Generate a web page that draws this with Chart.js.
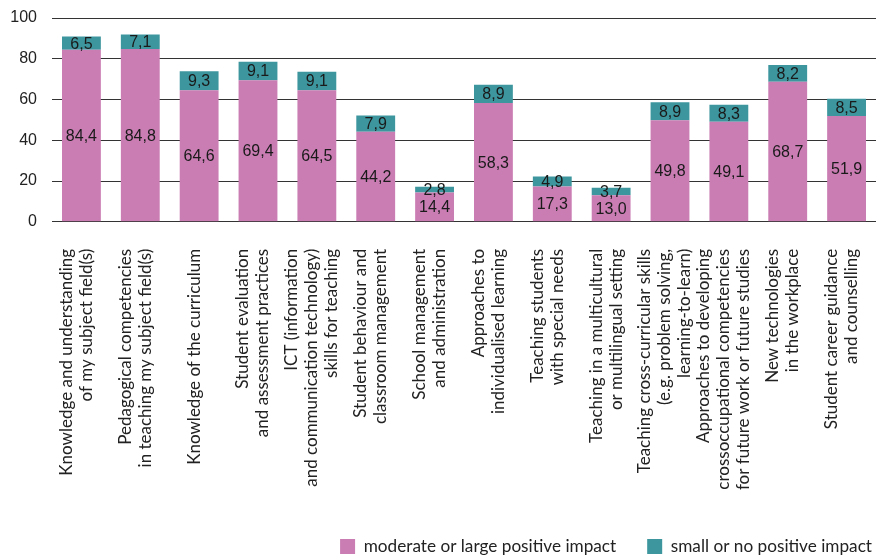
<!DOCTYPE html>
<html>
<head>
<meta charset="utf-8">
<script src="https://cdn.jsdelivr.net/npm/chart.js@4.4.0/dist/chart.umd.min.js"></script>
<style>
  html, body { margin: 0; padding: 0; background: #fff; }
  #wrap { width: 876px; height: 557px; }
</style>
</head>
<body>
<div id="wrap"><canvas id="myChart"></canvas></div>
<script>
var categories = [
  ["Knowledge and understanding", "of my subject field(s)"],
  ["Pedagogical competencies", "in teaching my subject field(s)"],
  ["Knowledge of the curriculum"],
  ["Student evaluation", "and assessment practices"],
  ["ICT (information", "and communication technology)", "skills for teaching"],
  ["Student behaviour and", "classroom management"],
  ["School management", "and administration"],
  ["Approaches to", "individualised learning"],
  ["Teaching students", "with special needs"],
  ["Teaching in a multicultural", "or multilingual setting"],
  ["Teaching cross-curricular skills", "(e.g. problem solving,", "learning-to-learn)"],
  ["Approaches to developing", "crossoccupational competencies", "for future work or future studies"],
  ["New technologies", "in the workplace"],
  ["Student career guidance", "and counselling"]
];
var moderateLarge = [84.4, 84.8, 64.6, 69.4, 64.5, 44.2, 14.4, 58.3, 17.3, 13.0, 49.8, 49.1, 68.7, 51.9];
var smallNone = [6.5, 7.1, 9.3, 9.1, 9.1, 7.9, 2.8, 8.9, 4.9, 3.7, 8.9, 8.3, 8.2, 8.5];
var yTicks = [0, 20, 40, 60, 80, 100];

var pink = '#c97db3';
var teal = '#3d969e';
var LABEL_LH = 20;

// draws the value in the middle of each bar segment
var segmentLabels = {
  id: 'segmentLabels',
  afterDatasetsDraw: function(chart) {
    var ctx = chart.ctx;
    ctx.save();
    ctx.font = '16px Arial, "Liberation Sans", sans-serif';
    ctx.fillStyle = '#1a1a1a';
    ctx.textAlign = 'center';
    ctx.textBaseline = 'middle';
    chart.data.datasets.forEach(function(ds, i) {
      var meta = chart.getDatasetMeta(i);
      meta.data.forEach(function(bar, j) {
        var p = bar.getProps(['x', 'y', 'base'], true);
        var txt = ds.data[j].toFixed(1).replace('.', ',');
        ctx.fillText(txt, p.x, (p.y + p.base) / 2 + 1);
      });
    });
    ctx.restore();
  }
};

// center the multi-line rotated category labels on their bar
var centerTickLines = {
  id: 'centerTickLines',
  beforeDraw: function(chart) {
    var items = chart.scales.x.getLabelItems(chart.chartArea);
    items.forEach(function(it) {
      if (it._centered) return;
      var n = Array.isArray(it.label) ? it.label.length : 1;
      it.textOffset -= (n - 1) * LABEL_LH / 2 + 5;
      it._centered = true;
    });
  },
  afterLayout: function(chart) {
    // nudge legend so its last item sits near the right edge
    chart.legend.left += 27;
    chart.legend.right += 27;
  }
};

var ctx = document.getElementById('myChart').getContext('2d');
var chart = new Chart(ctx, {
  type: 'bar',
  data: {
    labels: categories,
    datasets: [{
      label: 'moderate or large positive impact',
      data: moderateLarge,
      backgroundColor: pink,
      barPercentage: 0.66,
      categoryPercentage: 1
    }, {
      label: 'small or no positive impact',
      data: smallNone,
      backgroundColor: teal,
      barPercentage: 0.66,
      categoryPercentage: 1
    }]
  },
  options: {
    responsive: true,
    maintainAspectRatio: false,
    animation: false,
    layout: { padding: { top: 18, right: 0, left: 0, bottom: -8 } },
    plugins: {
      tooltip: { enabled: false },
      legend: {
        position: 'bottom',
        align: 'end',
        labels: {
          boxWidth: 15,
          boxHeight: 15,
          padding: 31,
          color: '#222',
          font: { family: 'Lato, "Open Sans", sans-serif', size: 17.2 }
        }
      }
    },
    scales: {
      x: {
        stacked: true,
        grid: { display: false },
        border: { display: false },
        ticks: {
          autoSkip: false,
          maxRotation: 90,
          minRotation: 90,
          padding: 19,
          color: '#222',
          font: { family: 'Lato, "Open Sans", sans-serif', size: 17, lineHeight: LABEL_LH / 17 }
        },
        afterFit: function(scale) {
          scale.height = 285;
          scale.paddingLeft = 0;
          scale.paddingRight = 0;
        }
      },
      y: {
        stacked: true,
        min: 0,
        max: 100,
        afterBuildTicks: function(scale) {
          scale.ticks = yTicks.map(function(v) { return { value: v }; });
        },
        grid: { color: '#333', lineWidth: 1, drawTicks: false },
        border: { display: false },
        ticks: {
          padding: 15,
          color: '#222',
          font: { family: 'Arial, "Liberation Sans", sans-serif', size: 16 }
        },
        afterFit: function(scale) {
          scale.width = 52;
          scale.paddingTop = 0;
          scale.paddingBottom = 0;
        }
      }
    }
  },
  plugins: [segmentLabels, centerTickLines]
});
</script>
</body>
</html>
